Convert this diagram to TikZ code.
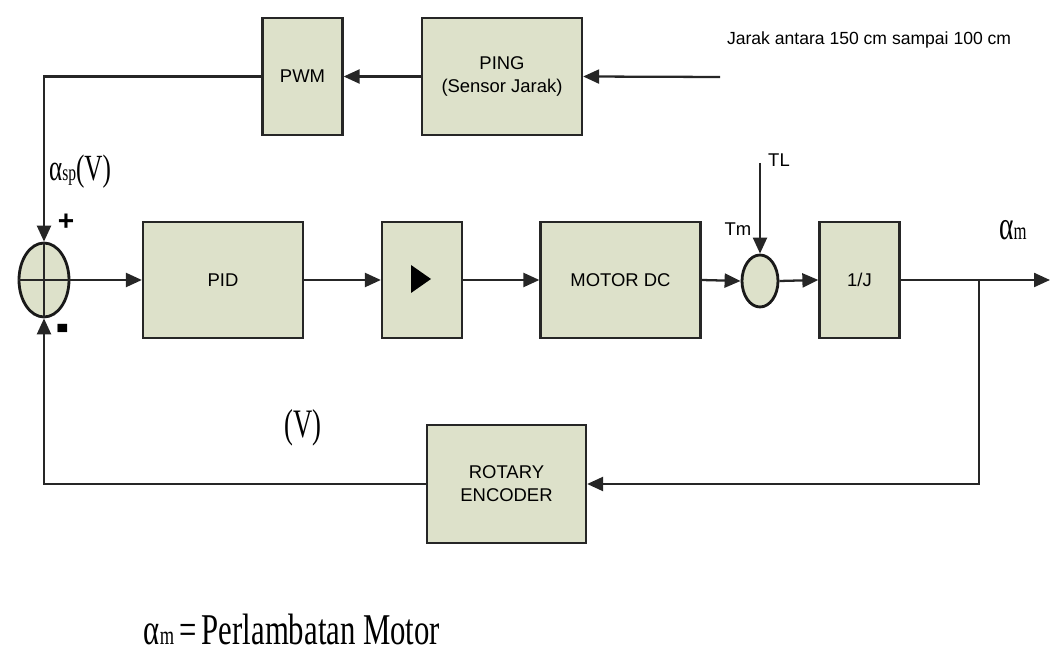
\documentclass[tikz,border=0pt]{standalone}
\usepackage{fontspec}
\usepackage{graphicx}
\setmainfont{Liberation Sans}
\newfontfamily\tms{Liberation Serif}
\usetikzlibrary{arrows.meta,shapes.geometric}
\definecolor{isiblok}{RGB}{221,225,202}
\tikzset{
  blok/.style={draw=black!85,fill=isiblok,line width=1.3pt,align=center,
    font=\fontsize{10.5}{13}\selectfont},
  sumbul/.style={ellipse,draw=black!90,fill=isiblok,line width=1.6pt,inner sep=0pt},
  alfa/.style={font=\tms,inner sep=0pt}
}

\begin{document}
\begin{tikzpicture}[x=0.02cm,y=-0.02cm,line width=1.3pt,draw=black!85,
  >={Triangle[length=0.32cm,width=0.28cm]}]
\useasboundingbox (0,0) rectangle (1055,671);
% ---------- jalur atas ----------
\node[blok,minimum width=1.6cm,minimum height=2.34cm] (pwm) at (302.5,76.5) {PWM};
\node[blok,minimum width=3.2cm,minimum height=2.34cm] (ping) at (502,76.5) {PING\\(Sensor Jarak)};
\coordinate (masuk) at (720,77);
\node[anchor=west,font=\fontsize{10}{12}\selectfont] (jarak) at (720,40)
  {Jarak antara 150 cm sampai 100 cm};
% ---------- jalur maju ----------
\node[sumbul,minimum width=1.0cm,minimum height=1.48cm] (sum) at (44,280) {};
\draw (sum.north) -- (sum.south) (sum.west) -- (sum.east);
\node[blok,minimum width=3.2cm,minimum height=2.32cm] (pid) at (223,280) {PID};
\node[blok,minimum width=1.6cm,minimum height=2.32cm] (amp) at (422,280) {};
\fill[black] (411,265) -- (431,279) -- (411,293) -- cycle;
\node[blok,minimum width=3.2cm,minimum height=2.32cm] (motor) at (620.5,280) {MOTOR DC};
\node[sumbul,minimum width=0.72cm,minimum height=1.04cm] (sum2) at (760,281) {};
\node[blok,minimum width=1.6cm,minimum height=2.32cm] (invj) at (859.5,280) {1/J};
\coordinate (tl) at (760,163);
\coordinate (cabang) at (979,280);
\coordinate (keluar) at (1050,280);
% ---------- umpan balik ----------
\node[blok,minimum width=3.18cm,minimum height=2.36cm] (enc) at (506.5,484) {ROTARY\\ENCODER};
% ---------- garis ----------
\draw[->] (masuk) -- (ping.east);
\draw[->] (ping.west) -- (pwm.east);
\draw[->] (pwm.west) -| (sum.north);
\draw[->] (sum.east) -- (pid.west);
\draw[->] (pid.east) -- (amp.west);
\draw[->] (amp.east) -- (motor.west);
\draw[->] (motor.east) -- (sum2.west);
\draw[->] (sum2.east) -- (invj.west);
\draw[->] (tl) -- (sum2.north);
\draw[->] (invj.east) -- (keluar);
\draw[->] (cabang) |- (enc.east);
\draw[->] (enc.west) -| (sum.south);
% ---------- label ----------
\node[font=\fontsize{10.5}{13}\selectfont] (tllabel) at (779,160) {TL};
\node[font=\fontsize{10.5}{13}\selectfont] (tm) at (738,229) {Tm};
\node[font=\bfseries\fontsize{16}{16}\selectfont] (plus) at (66,222) {+};
\node[font=\bfseries\fontsize{18}{18}\selectfont] (minus) at (63,335) {\scalebox{1.2}[2.2]{-}};
\node[alfa] (asp) at (80,172) {\scalebox{0.68}[1]{\fontsize{21}{24}\selectfont α{\fontsize{13}{14}\selectfont sp}(V)}};
\node[alfa] (am) at (1013,230) {\scalebox{0.68}[1]{\fontsize{23}{26}\selectfont α{\fontsize{14}{15}\selectfont m}}};
\node[alfa] (volt) at (303,428) {\scalebox{0.66}[1]{\fontsize{23}{26}\selectfont (V)}};
\node[alfa] (ket) at (292,629) {\scalebox{0.7}[1]{\fontsize{25}{28}\selectfont α{\fontsize{15}{16}\selectfont m}\,=\,Perlambatan Motor}};
\end{tikzpicture}
\end{document}
